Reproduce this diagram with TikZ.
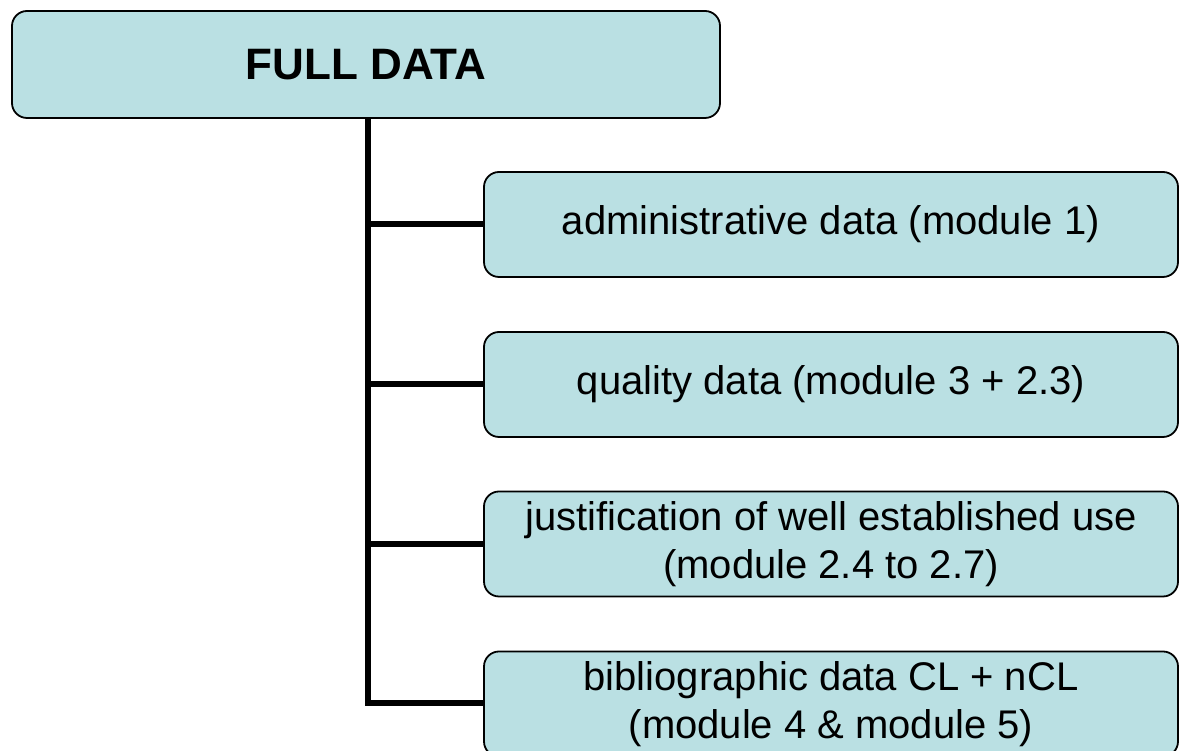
\documentclass[tikz,border=0pt]{standalone}
\usepackage{fontspec}
\setmainfont{Liberation Sans}
\definecolor{boxfill}{RGB}{186,224,227}
\begin{document}
\begin{tikzpicture}[x=1pt,y=1pt,
  box/.style={draw=black,line width=1.8pt,fill=boxfill,rounded corners=15pt,
    minimum width=694pt,minimum height=105pt,inner sep=0pt,align=center,
    font=\fontsize{40}{48}\selectfont},
  titlebox/.style={box,minimum width=708pt,minimum height=107pt,
    font=\fontsize{44}{48}\selectfont\bfseries},
  conn/.style={line width=6pt,line join=miter,line cap=butt}]
\useasboundingbox (0,0) rectangle (1179,751);
\clip (0,0) rectangle (1179,751);
\node[titlebox] (top) at (366,686.5) {FULL DATA};
\node[box] (b1) at (831,526.5) {administrative data (module 1)};
\node[box] (b2) at (831,366.5) {quality data (module 3 + 2.3)};
\node[box] (b3) at (831,207) {justification of well established use\\(module 2.4 to 2.7)};
\node[box] (b4) at (831,47) {bibliographic data CL + nCL\\(module 4 \& module 5)};
\coordinate (tb) at (368,48);
\draw[conn] (top.south -| tb) -- (tb) -- (b4.west |- tb);
\draw[conn] (b1.west -| tb) -- (b1.west);
\draw[conn] (b2.west -| tb) -- (b2.west);
\draw[conn] (b3.west -| tb) -- (b3.west);
\end{tikzpicture}
\end{document}
